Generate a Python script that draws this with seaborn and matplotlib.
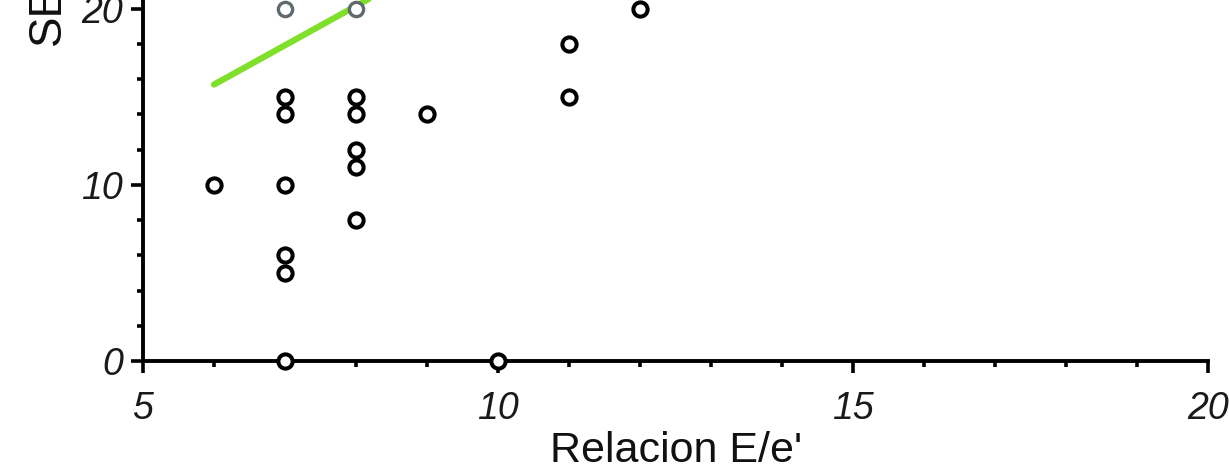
import matplotlib
matplotlib.use("Agg")
import matplotlib.pyplot as plt
import seaborn as sns
import pandas as pd
from matplotlib.ticker import MultipleLocator

# data
relacion = [6, 7, 7, 7, 7, 7, 7, 8, 8, 8, 8, 8, 9, 10, 11, 11, 12]
se_vals = [10, 15, 14, 10, 6, 5, 0, 15, 14, 12, 11, 8, 14, 0, 18, 15, 20]
faded_x = [7, 8]
faded_y = [20, 20]
green_x = [6.0, 8.6]
green_y = [15.7, 21.5]
x_ticks = [5, 10, 15, 20]
y_ticks = [0, 10, 20]

sns.set_theme(style="ticks")
plt.rcParams['font.family'] = ['Liberation Sans', 'DejaVu Sans']

fig = plt.figure(figsize=(12.29, 4.75), dpi=100)
ax = fig.add_axes([0.1164, 0.24, 0.8666, 0.76])

df = pd.DataFrame({"x": relacion, "y": se_vals})
dfl = pd.DataFrame({"x": green_x, "y": green_y})
dff = pd.DataFrame({"x": faded_x, "y": faded_y})

sns.lineplot(data=dfl, x="x", y="y", ax=ax, color="#7ee02a", linewidth=4.5,
             zorder=2)
sns.scatterplot(data=df, x="x", y="y", ax=ax, s=105, marker="o",
                facecolor="white", edgecolor="black", linewidth=2.9,
                zorder=4, clip_on=False)
sns.scatterplot(data=dff, x="x", y="y", ax=ax, s=105, marker="o",
                facecolor="white", edgecolor="#5f6a6e", linewidth=2.4,
                zorder=4, clip_on=False)

ax.set_xlim(5, 20)
ax.set_ylim(0, 20.5)
ax.set_xticks(x_ticks)
ax.set_yticks(y_ticks)
ax.xaxis.set_minor_locator(MultipleLocator(1))
ax.yaxis.set_minor_locator(MultipleLocator(2))

for s in ["top", "right"]:
    ax.spines[s].set_visible(False)
for s in ["left", "bottom"]:
    ax.spines[s].set_linewidth(2.8)
    ax.spines[s].set_color("black")

ax.tick_params(axis="both", which="major", length=8.5, width=2.6,
               color="black", labelsize=27)
ax.tick_params(axis="both", which="minor", length=4.5, width=2.6,
               color="black")
ax.tick_params(axis="x", which="major", pad=13)
ax.tick_params(axis="y", which="major", pad=6)
for lab in ax.get_xticklabels() + ax.get_yticklabels():
    lab.set_fontstyle("italic")
    lab.set_fontweight("medium")
    lab.set_color("#1a1a1a")

ax.set_xlabel("Relacion E/e'", fontsize=31, labelpad=3, color="#111111")
ax.set_ylabel("")
ax.text(-0.089, 0.875, "SE", transform=ax.transAxes, rotation=90,
        fontsize=33, ha="center", va="bottom", color="#111111",
        clip_on=False)

fig.savefig("out.png", dpi=100)
